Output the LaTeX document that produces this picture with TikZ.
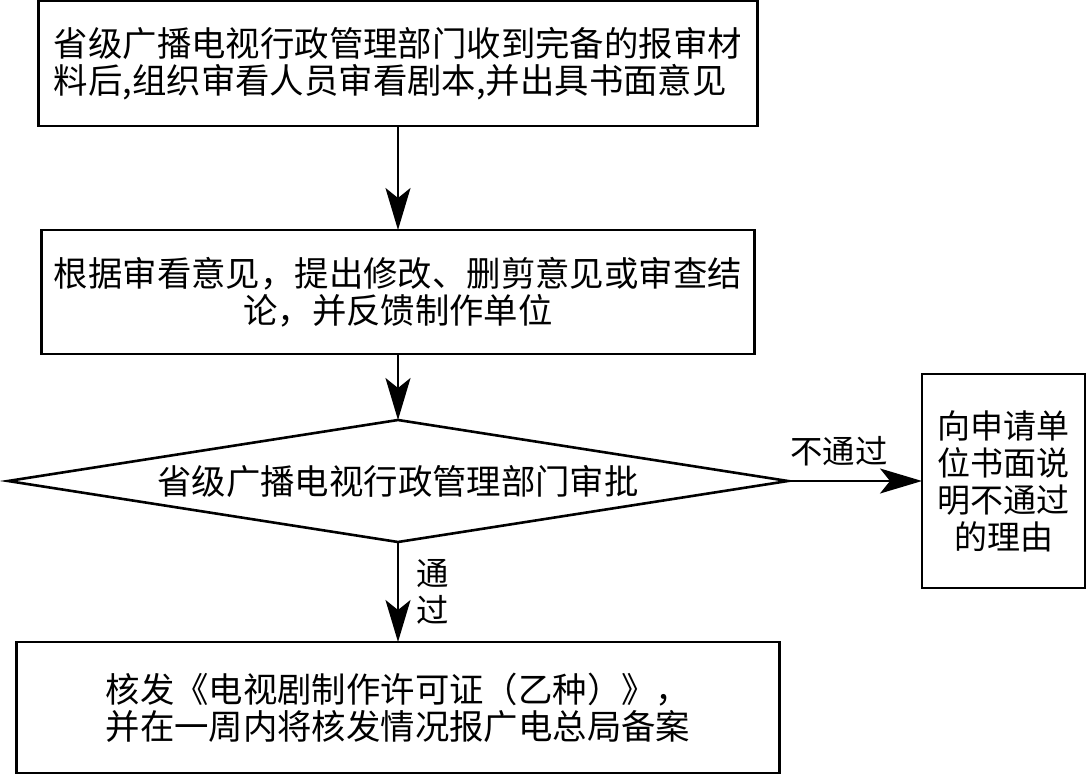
\documentclass[tikz,border=0pt]{standalone}
\usepackage{fontspec}
\setmainfont{Noto Sans CJK SC}
\usetikzlibrary{positioning,arrows.meta,shapes.geometric}

\begin{document}
\begin{tikzpicture}[
    x=0.5pt, y=-0.5pt,
    font=\fontsize{17.2}{18.5}\selectfont,
    box/.style={draw, line width=1.4pt, inner sep=0pt, outer sep=0pt, align=center},
    check/.style={diamond, draw, line width=1.3pt, inner sep=0pt, outer sep=0pt, aspect=6.4,
                  minimum width=390pt, minimum height=61pt},
    arr/.style={-{Stealth[length=21pt, width=12.5pt, inset=5pt]}, line width=1pt},
    lbl/.style={inner sep=0pt, font=\fontsize{16.2}{18.5}\selectfont},
  ]
  \useasboundingbox (0,0) rectangle (1087,775);
  % main review chain, top to bottom
  \node[box, align=left, minimum width=359.5pt, minimum height=62.5pt] (recv) at (398,63.5)
    {省级广播电视行政管理部门收到完备的报审材\\料后,组织审看人员审看剧本,并出具书面意见};
  \node[box, minimum width=356.5pt, minimum height=62pt, below=52pt of recv] (opin)
    {根据审看意见，提出修改、删剪意见或审查结\\论，并反馈制作单位};
  \node[check, below=33pt of opin] (appr) {省级广播电视行政管理部门审批};
  \node[box, minimum width=381.5pt, minimum height=65.5pt, below=50pt of appr] (lic)
    {核发《电视剧制作许可证（乙种）》，\\并在一周内将核发情况报广电总局备案};
  % rejection branch on the right
  \node[box, minimum width=81.5pt, minimum height=107pt, right=67pt of appr,
        font=\fontsize{16.5}{18.5}\selectfont] (rej)
    {向申请单\\位书面说\\明不通过\\的理由};
  % connectors
  \draw[arr] (recv) -- (opin);
  \draw[arr] (opin) -- (appr);
  \draw[arr] (appr) -- node[lbl, above=7pt, pos=0.38] {不通过} (rej);
  \draw[arr] (appr) -- node[lbl, right=8.5pt, align=center] {通\\过} (lic);
\end{tikzpicture}
\end{document}
